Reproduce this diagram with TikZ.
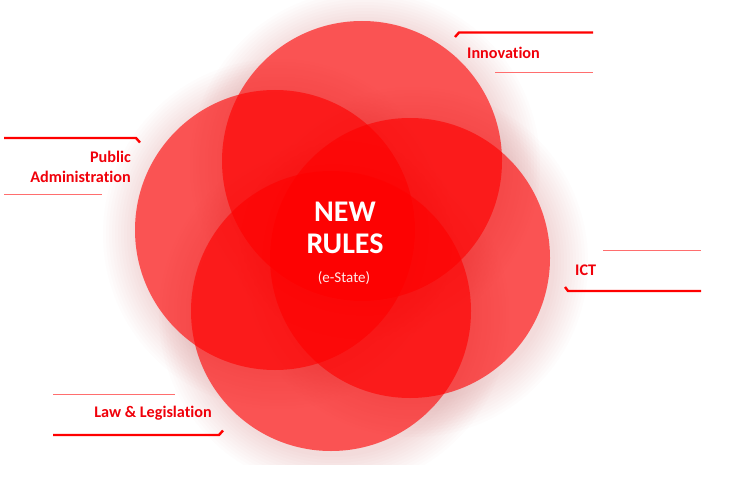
\documentclass[tikz,border=0pt]{standalone}
\usepackage{fontspec}
\setmainfont{Carlito}[Ligatures={NoCommon}]
\definecolor{lblred}{RGB}{240,0,10}
\definecolor{thinred}{RGB}{255,110,110}
\definecolor{glowc}{RGB}{200,90,90}
\tikzset{
  disc/.style={fill=red, fill opacity=0.62, draw=none},
  glowring/.style={fill=glowc, fill opacity=0.014, draw=none},
  thickline/.style={draw=red, line width=2.4pt, line join=miter},
  thinline/.style={draw=thinred, line width=1pt},
  lbl/.style={text=lblred, font=\bfseries\fontsize{16.2}{20}\selectfont, inner sep=0pt},
  big/.style={text=white, font=\bfseries\fontsize{30}{32}\selectfont, inner sep=0pt},
  small/.style={text=white!92!red, font=\fontsize{15}{17}\selectfont, inner sep=0pt}
}
\begin{document}
\begin{tikzpicture}[x=1pt,y=-1pt]
\useasboundingbox (0,0) rectangle (733,492);
\fill[white] (0,0) rectangle (733,492);
% glow
\begin{scope}
\clip (0,0) rectangle (733,464);
\foreach \cx/\cy in {362/161, 275/230, 410/258, 331/311}{
  \foreach \r in {142,145,...,175}{
    \fill[glowring] (\cx+3,\cy+4) circle[radius=\r];
  }
}
\end{scope}
% discs
\fill[disc] (362,161) circle[radius=140];
\fill[disc] (275,230) circle[radius=140];
\fill[disc] (410,258) circle[radius=140];
\fill[disc] (331,311) circle[radius=140];
% centre text
\node[big] (new) at (345,212) {NEW};
\node[big] (rules) at (345,244) {RULES};
\node[small] (estate) at (344,278) {(e-State)};
% Innovation
\draw[thickline] (455,37) -- (459,32.5) -- (593,32.5);
\draw[thinline] (495,73) -- (593,73);
\node[lbl, anchor=west] (innov) at (467,53) {Innovation};
% Public Administration
\draw[thickline] (4,138) -- (136,138) -- (140,142.5);
\draw[thinline] (4,194) -- (102,194);
\node[lbl, anchor=east, align=right] (pubadm) at (131,167) {Public\\Administration};
% ICT
\draw[thinline] (603,250) -- (701,250);
\draw[thickline] (565,287) -- (568,291) -- (701,291);
\node[lbl, anchor=west] (ict) at (575,270) {ICT};
% Law
\draw[thinline] (53,394) -- (175,394);
\draw[thickline] (53,435) -- (219,435) -- (223,430.5);
\node[lbl, anchor=east] (law) at (212,413) {Law \& Legislation};
\end{tikzpicture}
\end{document}
